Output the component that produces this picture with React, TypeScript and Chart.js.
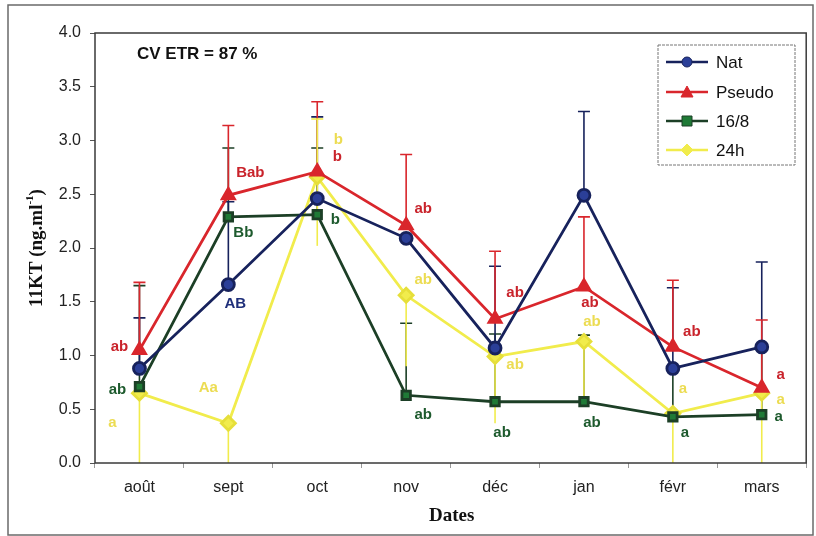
import React, { useEffect, useRef } from "react";
import { Chart, registerables } from "chart.js";

Chart.register(...registerables);

// ---------- data ----------
const categories = ["août", "sept", "oct", "nov", "déc", "jan", "févr", "mars"];
const seriesNames = ["Nat", "Pseudo", "16/8", "24h"];

const natValues = [0.88, 1.66, 2.46, 2.09, 1.07, 2.49, 0.88, 1.08];
const pseudoValues = [1.05, 2.49, 2.71, 2.21, 1.34, 1.64, 1.08, 0.7];
const h16Values = [0.71, 2.29, 2.31, 0.63, 0.57, 0.57, 0.43, 0.45];
const h24Values = [0.65, 0.37, 2.66, 1.56, 0.99, 1.13, 0.46, 0.65];

// error bar ends (null = none shown)
const natUpper = [1.35, 2.43, 3.22, null, 1.83, 3.27, 1.63, 1.87];
const pseudoUpper = [1.68, 3.14, 3.36, 2.87, 1.97, 2.29, 1.7, 1.33];
const h16Upper = [1.65, 2.93, 2.93, 1.3, 1.2, 1.19, 0.88, 1.08];
const h24Upper = [null, null, 3.2, null, null, null, null, null];
const h24Lower = [0, 0, 2.02, 0.9, 0.37, 0.55, 0, 0];

// significance letters
const natLetters = ["", "AB", "", "", "", "", "", ""];
const pseudoLetters = ["ab", "Bab", "b", "ab", "ab", "ab", "ab", "a"];
const h16Letters = ["ab", "Bb", "b", "ab", "ab", "ab", "a", "a"];
const h24Letters = ["a", "Aa", "b", "ab", "ab", "ab", "a", "a"];

const yTicks = [0, 0.5, 1, 1.5, 2, 2.5, 3, 3.5, 4];
const annotationText = "CV ETR = 87 %";
const xTitle = "Dates";
const yTitleMain = "11KT (ng.ml";
const yTitleSup = "-1";
const yTitleEnd = ")";

// ---------- styles ----------
const NAT_LINE = "#17225c";
const NAT_FILL = "#2b3f98";
const RED = "#d9262c";
const GREEN_LINE = "#1c3f26";
const GREEN_FILL = "#1f7a36";
const YELLOW = "#f1ec4c";

const letterColors = ["#1f2f7a", "#c9232b", "#1d5a2d", "#ecdc52"];
// pixel offsets of letters relative to their point
const letterOffsets = [
  [[0, 0], [7, 19], [0, 0], [0, 0], [0, 0], [0, 0], [0, 0], [0, 0]],
  [[-20, -3], [22, -22], [20, -15], [17, -17], [20, -26], [6, 16], [19, -15], [19, -13]],
  [[-22, 3], [15, 16], [18, 5], [17, 20], [7, 31], [8, 21], [12, 16], [17, 2]],
  [[-27, 30], [-20, -35], [21, -37], [17, -15], [20, 8], [8, -20], [10, -25], [19, 7]],
];

export default function App() {
  const ref = useRef<HTMLCanvasElement | null>(null);

  useEffect(() => {
    document.body.style.margin = "0";
    const canvas = ref.current;
    if (!canvas) return;

    const errorSets = [
      { up: natUpper, low: null as (number | null)[] | null, color: NAT_LINE },
      { up: pseudoUpper, low: null, color: RED },
      { up: h16Upper, low: null, color: GREEN_LINE },
      { up: h24Upper, low: h24Lower, color: YELLOW },
    ];
    const letterSets = [natLetters, pseudoLetters, h16Letters, h24Letters];
    const legendStyles = [
      { line: NAT_LINE, fill: NAT_FILL, style: "circle" },
      { line: RED, fill: RED, style: "triangle" },
      { line: GREEN_LINE, fill: GREEN_FILL, style: "rect" },
      { line: YELLOW, fill: YELLOW, style: "rectRot" },
    ];

    const overlay = {
      id: "overlay",
      beforeDraw(chart: any) {
        const { ctx } = chart;
        ctx.save();
        ctx.fillStyle = "#ffffff";
        ctx.fillRect(0, 0, chart.width, chart.height);
        ctx.restore();
      },
      beforeDatasetsDraw(chart: any) {
        const { ctx, scales } = chart;
        const x = scales.x;
        const y = scales.y;
        ctx.save();
        ctx.lineWidth = 1.6;
        const cap = 6;
        const order = [2, 0, 1, 3];
        order.forEach((si) => {
          const es = errorSets[si];
          const vals = chart.data.datasets[si].data as number[];
          ctx.strokeStyle = es.color;
          vals.forEach((v, i) => {
            const px = x.getPixelForValue(i);
            const py = y.getPixelForValue(v);
            const ends: [number, boolean][] = [];
            if (es.up && es.up[i] != null) ends.push([es.up[i] as number, true]);
            if (es.low && es.low[i] != null) ends.push([es.low[i] as number, false]);
            ends.forEach(([e, withCap]) => {
              const pe = y.getPixelForValue(e);
              ctx.beginPath();
              ctx.moveTo(px, py);
              ctx.lineTo(px, pe);
              if (withCap) {
                ctx.moveTo(px - cap, pe);
                ctx.lineTo(px + cap, pe);
              }
              ctx.stroke();
            });
          });
        });
        ctx.restore();
      },
      afterDatasetsDraw(chart: any) {
        const { ctx, scales } = chart;
        const x = scales.x;
        const y = scales.y;
        ctx.save();
        ctx.font = "bold 15px 'Liberation Sans', Arial, sans-serif";
        ctx.textAlign = "center";
        ctx.textBaseline = "middle";
        letterSets.forEach((letters, si) => {
          const vals = chart.data.datasets[si].data as number[];
          ctx.fillStyle = letterColors[si];
          letters.forEach((t, i) => {
            if (!t) return;
            const px = x.getPixelForValue(i) + letterOffsets[si][i][0];
            const py = y.getPixelForValue(vals[i]) + letterOffsets[si][i][1];
            ctx.fillText(t, px, py);
          });
        });
        ctx.restore();
      },
      afterDraw(chart: any) {
        const { ctx, chartArea } = chart;
        const { left, right, top, bottom } = chartArea;
        ctx.save();
        // plot frame
        ctx.strokeStyle = "#3a3a3a";
        ctx.lineWidth = 1.5;
        ctx.strokeRect(left, top, right - left, bottom - top);
        // outer frame
        ctx.strokeStyle = "#6a6a6a";
        ctx.lineWidth = 1.5;
        ctx.strokeRect(8, 5, 805, 530);

        // annotation
        ctx.fillStyle = "#111";
        ctx.font = "bold 17px 'Liberation Sans', Arial, sans-serif";
        ctx.textAlign = "left";
        ctx.textBaseline = "middle";
        ctx.fillText(annotationText, 137, 54);

        // x title
        ctx.font = "bold 19px 'Liberation Serif', 'Times New Roman', serif";
        ctx.textAlign = "center";
        ctx.fillText(xTitle, (left + right) / 2 + 1, 516);

        // y title (rotated, with superscript)
        ctx.save();
        ctx.translate(37, (top + bottom) / 2);
        ctx.rotate(-Math.PI / 2);
        const mainFont = "bold 19px 'Liberation Serif', 'Times New Roman', serif";
        const supFont = "bold 11px 'Liberation Serif', 'Times New Roman', serif";
        ctx.font = mainFont;
        const w1 = ctx.measureText(yTitleMain).width;
        const w3 = ctx.measureText(yTitleEnd).width;
        ctx.font = supFont;
        const w2 = ctx.measureText(yTitleSup).width;
        const total = w1 + w2 + w3;
        let cx = -total / 2;
        ctx.textAlign = "left";
        ctx.textBaseline = "middle";
        ctx.font = mainFont;
        ctx.fillText(yTitleMain, cx, 0);
        cx += w1;
        ctx.font = supFont;
        ctx.fillText(yTitleSup, cx, -7);
        cx += w2;
        ctx.font = mainFont;
        ctx.fillText(yTitleEnd, cx, 0);
        ctx.restore();

        // legend
        const lx = 658, ly = 45, lw = 137, lh = 120;
        ctx.fillStyle = "#ffffff";
        ctx.fillRect(lx, ly, lw, lh);
        ctx.strokeStyle = "#777";
        ctx.lineWidth = 1;
        ctx.setLineDash([3, 1]);
        ctx.strokeRect(lx, ly, lw, lh);
        ctx.setLineDash([]);
        const rowsY = [62, 92, 121, 150];
        seriesNames.forEach((name, i) => {
          const st = legendStyles[i];
          const ry = rowsY[i];
          ctx.strokeStyle = st.line;
          ctx.lineWidth = 2.5;
          ctx.beginPath();
          ctx.moveTo(666, ry);
          ctx.lineTo(708, ry);
          ctx.stroke();
          ctx.fillStyle = st.fill;
          ctx.strokeStyle = st.line;
          ctx.lineWidth = 1;
          const s = 5;
          ctx.beginPath();
          if (st.style === "circle") {
            ctx.arc(687, ry, s, 0, Math.PI * 2);
          } else if (st.style === "triangle") {
            ctx.moveTo(687, ry - s - 1);
            ctx.lineTo(687 + s + 1, ry + s);
            ctx.lineTo(687 - s - 1, ry + s);
            ctx.closePath();
          } else if (st.style === "rect") {
            ctx.rect(687 - s, ry - s, 2 * s, 2 * s);
          } else {
            ctx.moveTo(687, ry - s - 1);
            ctx.lineTo(687 + s + 1, ry);
            ctx.lineTo(687, ry + s + 1);
            ctx.lineTo(687 - s - 1, ry);
            ctx.closePath();
          }
          ctx.fill();
          ctx.stroke();
          ctx.fillStyle = "#111";
          ctx.font = "17px 'Liberation Sans', Arial, sans-serif";
          ctx.textAlign = "left";
          ctx.textBaseline = "middle";
          ctx.fillText(name, 716, ry + 1);
        });
        ctx.restore();
      },
    };

    const chart = new Chart(canvas, {
      type: "line",
      data: {
        labels: categories,
        datasets: [
          {
            label: seriesNames[0],
            data: natValues,
            borderColor: NAT_LINE,
            backgroundColor: NAT_FILL,
            pointBackgroundColor: NAT_FILL,
            pointBorderColor: NAT_LINE,
            pointStyle: "circle",
            pointRadius: 6,
            borderWidth: 2.8,
          },
          {
            label: seriesNames[1],
            data: pseudoValues,
            borderColor: RED,
            backgroundColor: RED,
            pointBackgroundColor: RED,
            pointBorderColor: RED,
            pointStyle: "triangle",
            pointRadius: 7,
            borderWidth: 2.8,
          },
          {
            label: seriesNames[2],
            data: h16Values,
            borderColor: GREEN_LINE,
            backgroundColor: GREEN_FILL,
            pointBackgroundColor: GREEN_FILL,
            pointBorderColor: GREEN_LINE,
            pointStyle: "rect",
            pointRadius: 6,
            borderWidth: 2.8,
          },
          {
            label: seriesNames[3],
            data: h24Values,
            borderColor: YELLOW,
            backgroundColor: YELLOW,
            pointBackgroundColor: YELLOW,
            pointBorderColor: "#e6df3a",
            pointStyle: "rectRot",
            pointRadius: 7,
            borderWidth: 2.8,
          },
        ],
      },
      options: {
        responsive: false,
        animation: false,
        devicePixelRatio: 1,
        layout: { padding: { left: 0, right: 8, top: 33, bottom: 0 } },
        plugins: {
          legend: { display: false },
          tooltip: { enabled: false },
          title: { display: false },
        },
        elements: { line: { tension: 0 } },
        scales: {
          x: {
            type: "category",
            offset: true,
            grid: {
              display: true,
              offset: true,
              drawOnChartArea: false,
              tickLength: 5,
              color: "#999",
            },
            border: { display: false },
            ticks: {
              color: "#222",
              font: { family: "'Liberation Sans', Arial, sans-serif", size: 16 },
              padding: 10,
              maxRotation: 0,
              autoSkip: false,
            },
            afterFit(scale: any) {
              scale.height = 73;
            },
          },
          y: {
            min: 0,
            max: 4,
            afterBuildTicks(scale: any) {
              scale.ticks = yTicks.map((v) => ({ value: v }));
            },
            grid: {
              display: true,
              drawOnChartArea: false,
              tickLength: 5,
              color: "#555",
            },
            border: { display: false },
            ticks: {
              color: "#222",
              font: { family: "'Liberation Sans', Arial, sans-serif", size: 16 },
              padding: 9,
              callback: (v: any) => Number(v).toFixed(1),
            },
            afterFit(scale: any) {
              scale.width = 95;
            },
          },
        },
      },
      plugins: [overlay],
    } as any);

    return () => {
      chart.destroy();
    };
  }, []);

  return (
    <div style={{ width: 816, height: 536 }}>
      <canvas ref={ref} width={816} height={536} style={{ display: "block" }} />
    </div>
  );
}
